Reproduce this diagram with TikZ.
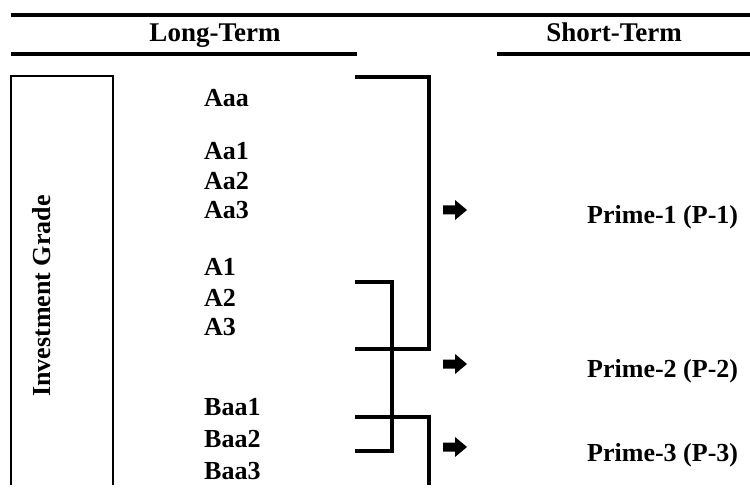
\documentclass[tikz,border=0pt]{standalone}
\usepackage{fontspec}
\setmainfont{Liberation Serif}
\begin{document}
\begin{tikzpicture}[x=1pt,y=-1pt,
  lbl/.style={font=\fontsize{26}{30}\selectfont\bfseries, inner sep=0pt, anchor=base west},
  head/.style={font=\fontsize{27}{30}\selectfont\bfseries, inner sep=0pt, anchor=base},
  rule/.style={line width=4pt},
  uline/.style={line width=3.5pt},
  brk/.style={line width=3.5pt},
  boxline/.style={line width=2pt},
  blockarrow/.style={fill=black}]
\useasboundingbox (0,0) rectangle (750,497);
% rules
\coordinate (t1) at (11,15); \coordinate (t2) at (750,15);
\draw[rule] (t1) -- (t2);
\coordinate (u1) at (11,54); \coordinate (u2) at (357,54);
\coordinate (u3) at (497,54); \coordinate (u4) at (750,54);
\draw[uline] (u1) -- (u2);
\draw[uline] (u3) -- (u4);
\node[head] (lt) at (215,42) {Long-Term};
\node[head] (st) at (614,42) {Short-Term};
% box
\coordinate (bx1) at (11,485); \coordinate (bx2) at (11,76);
\coordinate (bx3) at (113,76); \coordinate (bx4) at (113,485);
\draw[boxline] (bx1) -- (bx2) -- (bx3) -- (bx4);
\node[font=\fontsize{26}{30}\selectfont\bfseries, rotate=90, inner sep=0pt] (ig) at (42,296) {Investment Grade};
% labels
\node[lbl] (aaa) at (204,107) {Aaa};
\node[lbl] (aa1) at (204,160) {Aa1};
\node[lbl] (aa2) at (204,190) {Aa2};
\node[lbl] (aa3) at (204,219) {Aa3};
\node[lbl] (a1) at (204,276) {A1};
\node[lbl] (a2) at (204,306) {A2};
\node[lbl] (a3) at (204,335) {A3};
\node[lbl] (baa1) at (204,415) {Baa1};
\node[lbl] (baa2) at (204,447) {Baa2};
\node[lbl] (baa3) at (204,479) {Baa3};
% brackets
\coordinate (p1a) at (355,77); \coordinate (p1b) at (429,77);
\coordinate (p1c) at (429,349); \coordinate (p1d) at (355,349);
\draw[brk] (p1a) -- (p1b) -- (p1c) -- (p1d);
\coordinate (p2a) at (355,282); \coordinate (p2b) at (392,282);
\coordinate (p2c) at (392,451); \coordinate (p2d) at (355,451);
\draw[brk] (p2a) -- (p2b) -- (p2c) -- (p2d);
\coordinate (p3a) at (355,417); \coordinate (p3b) at (429,417);
\coordinate (p3c) at (429,485);
\draw[brk] (p3a) -- (p3b) -- (p3c);
% arrows
\foreach \n/\y in {ar1/210, ar2/364, ar3/447}{
  \coordinate (\n) at (443,\y);
  \fill[blockarrow] (\n) ++(0,-4.5) -- ++(12,0) -- ++(0,-5.5) -- ++(12,10) -- ++(-12,10) -- ++(0,-5.5) -- ++(-12,0) -- cycle;
}
% short-term
\node[lbl] (p1) at (587,224) {Prime-1 (P-1)};
\node[lbl] (p2) at (587,377) {Prime-2 (P-2)};
\node[lbl] (p3) at (587,461) {Prime-3 (P-3)};
\end{tikzpicture}
\end{document}
